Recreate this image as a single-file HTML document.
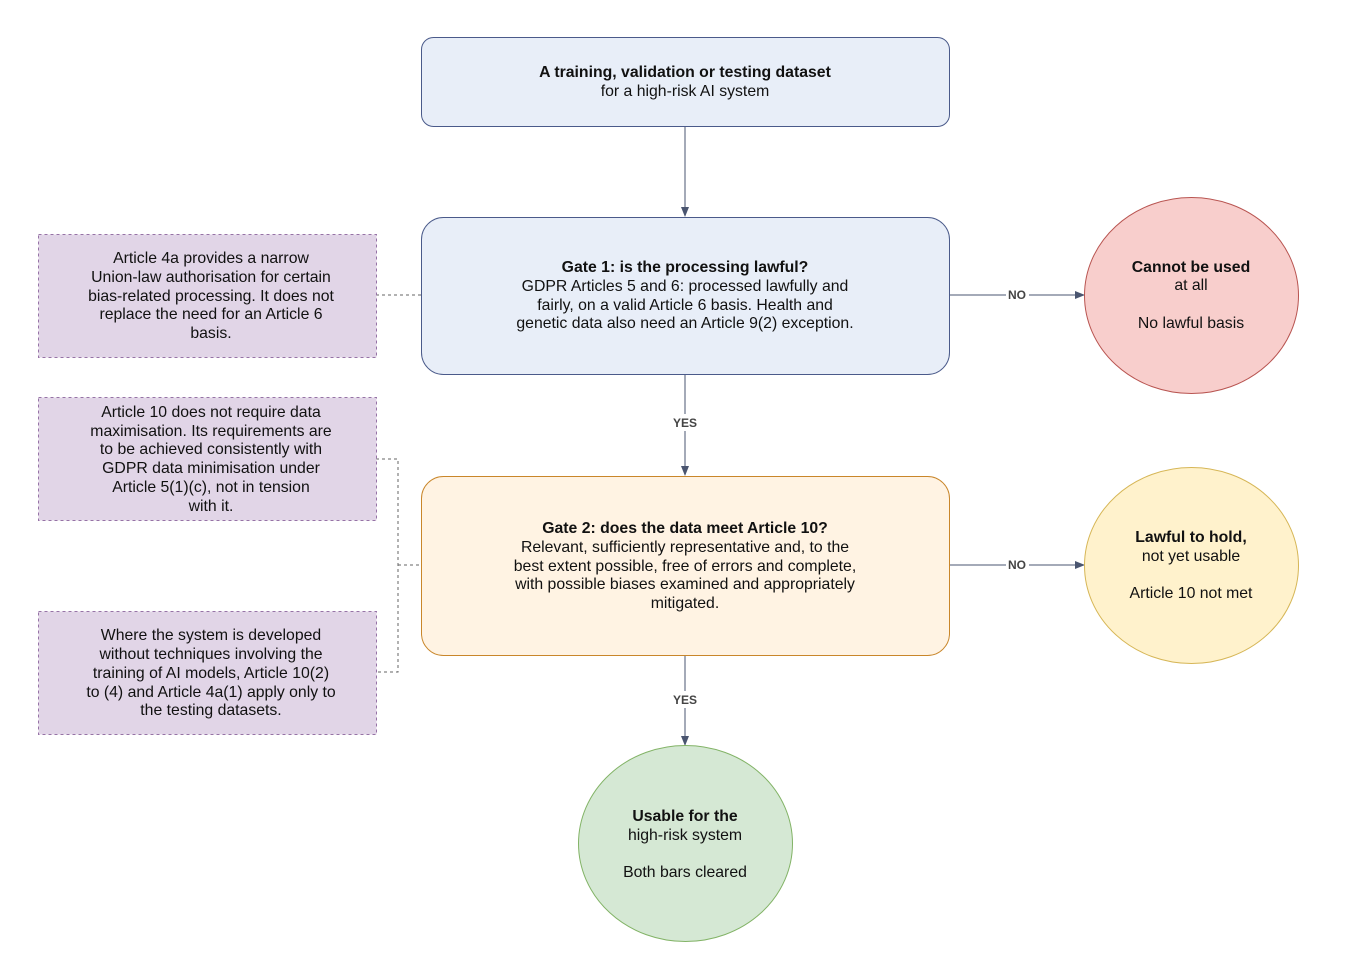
<!DOCTYPE html>
<html><head><meta charset="utf-8"><style>
body{margin:0;background:#fff}
svg{display:block}
text{font-family:"Liberation Sans",Arial,sans-serif;font-size:15.8px;fill:#111}
.b{font-weight:bold}
.l{font-size:12px;font-weight:bold;fill:#444}
</style></head><body>
<svg width="1345" height="977" viewBox="0 0 1345 977" xmlns="http://www.w3.org/2000/svg">
<defs><marker id="a" markerWidth="10" markerHeight="10" refX="9" refY="5" orient="auto" markerUnits="userSpaceOnUse"><path d="M0,1 L10,5 L0,9 z" fill="#4a5570"/></marker></defs>
<g stroke="#4a5570" stroke-width="1" fill="none">
<line x1="685" y1="126" x2="685" y2="216" marker-end="url(#a)"/>
<line x1="685" y1="374" x2="685" y2="475" marker-end="url(#a)"/>
<line x1="685" y1="655" x2="685" y2="745" marker-end="url(#a)"/>
<line x1="949" y1="295" x2="1084" y2="295" marker-end="url(#a)"/>
<line x1="949" y1="565" x2="1084" y2="565" marker-end="url(#a)"/>
<g stroke-dasharray="3,3" stroke="#666">
<line x1="376" y1="295" x2="421" y2="295"/>
<polyline points="376,459 398,459 398,672 376,672"/>
<line x1="398" y1="565" x2="421" y2="565"/>
</g>
</g>
<rect x="672" y="414" width="27" height="17" fill="#fff"/><text x="685" y="427" text-anchor="middle" class="l">YES</text>
<rect x="672" y="691" width="27" height="17" fill="#fff"/><text x="685" y="704" text-anchor="middle" class="l">YES</text>
<rect x="1006" y="287" width="23" height="16" fill="#fff"/><text x="1017" y="299" text-anchor="middle" class="l">NO</text>
<rect x="1006" y="557" width="23" height="16" fill="#fff"/><text x="1017" y="569" text-anchor="middle" class="l">NO</text>

<rect x="421.5" y="37.5" width="528" height="89" rx="12" fill="#e8eef8" stroke="#4a5a8a"/>
<text x="685" y="77" text-anchor="middle" class="b">A training, validation or testing dataset</text>
<text x="685" y="96" text-anchor="middle">for a high-risk AI system</text>

<rect x="421.5" y="217.5" width="528" height="157" rx="22" fill="#e8eef8" stroke="#4a5a8a"/>
<text text-anchor="middle"><tspan x="685" y="272" class="b">Gate 1: is the processing lawful?</tspan><tspan x="685" y="291">GDPR Articles 5 and 6: processed lawfully and</tspan><tspan x="685" y="310">fairly, on a valid Article 6 basis. Health and</tspan><tspan x="685" y="328">genetic data also need an Article 9(2) exception.</tspan></text>

<rect x="421.5" y="476.5" width="528" height="179" rx="22" fill="#fff3e3" stroke="#c9862a"/>
<text text-anchor="middle"><tspan x="685" y="533" class="b">Gate 2: does the data meet Article 10?</tspan><tspan x="685" y="552">Relevant, sufficiently representative and, to the</tspan><tspan x="685" y="571">best extent possible, free of errors and complete,</tspan><tspan x="685" y="589">with possible biases examined and appropriately</tspan><tspan x="685" y="608">mitigated.</tspan></text>

<ellipse cx="1191.5" cy="295.5" rx="107" ry="98" fill="#f8cecc" stroke="#b85450"/>
<text text-anchor="middle"><tspan x="1191" y="272" class="b">Cannot be used</tspan><tspan x="1191" y="290">at all</tspan><tspan x="1191" y="328">No lawful basis</tspan></text>
<ellipse cx="1191.5" cy="565.5" rx="107" ry="98" fill="#fff2cc" stroke="#d6b656"/>
<text text-anchor="middle"><tspan x="1191" y="542" class="b">Lawful to hold,</tspan><tspan x="1191" y="561">not yet usable</tspan><tspan x="1191" y="598">Article 10 not met</tspan></text>
<ellipse cx="685.5" cy="843.5" rx="107" ry="98" fill="#d5e8d4" stroke="#82b366"/>
<text text-anchor="middle"><tspan x="685" y="821" class="b">Usable for the</tspan><tspan x="685" y="840">high-risk system</tspan><tspan x="685" y="877">Both bars cleared</tspan></text>

<g fill="#e1d5e7" stroke="#9673a6" stroke-dasharray="3,3">
<rect x="38.5" y="234.5" width="338" height="123"/>
<rect x="38.5" y="397.5" width="338" height="123"/>
<rect x="38.5" y="611.5" width="338" height="123"/>
</g>
<text text-anchor="middle"><tspan x="211" y="263">Article 4a provides a narrow</tspan><tspan x="211" y="282">Union-law authorisation for certain</tspan><tspan x="211" y="301">bias-related processing. It does not</tspan><tspan x="211" y="319">replace the need for an Article 6</tspan><tspan x="211" y="338">basis.</tspan></text>
<text text-anchor="middle"><tspan x="211" y="417">Article 10 does not require data</tspan><tspan x="211" y="436">maximisation. Its requirements are</tspan><tspan x="211" y="454">to be achieved consistently with</tspan><tspan x="211" y="473">GDPR data minimisation under</tspan><tspan x="211" y="492">Article 5(1)(c), not in tension</tspan><tspan x="211" y="511">with it.</tspan></text>
<text text-anchor="middle"><tspan x="211" y="640">Where the system is developed</tspan><tspan x="211" y="659">without techniques involving the</tspan><tspan x="211" y="678">training of AI models, Article 10(2)</tspan><tspan x="211" y="697">to (4) and Article 4a(1) apply only to</tspan><tspan x="211" y="715">the testing datasets.</tspan></text>
</svg>
</body></html>
